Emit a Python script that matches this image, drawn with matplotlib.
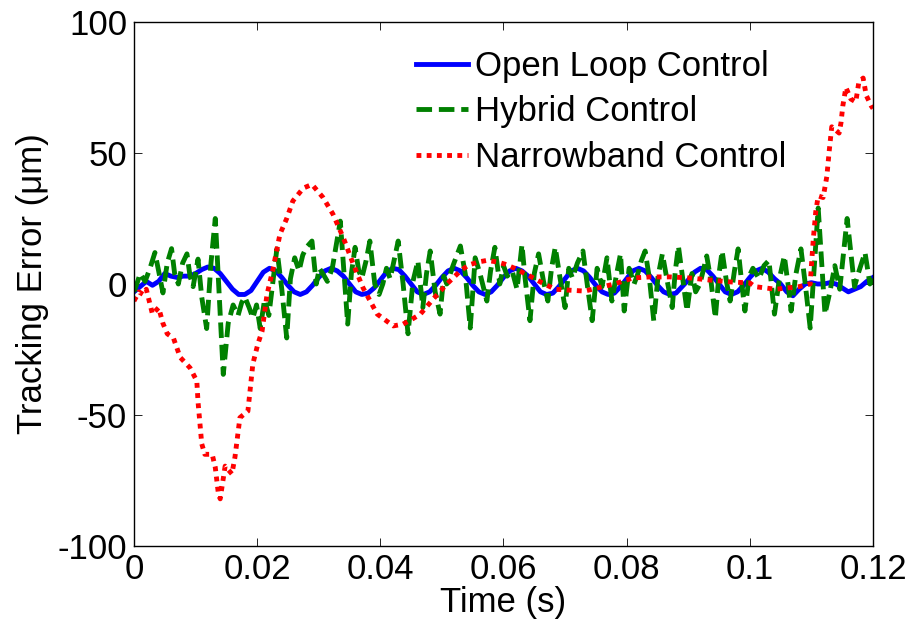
import numpy as np
import matplotlib
matplotlib.use("Agg")
import matplotlib.pyplot as plt

# === Data (time in s, error in um) ===
open_t = np.arange(121) * 0.001
open_err = [-3, -1, 1, -0.5, 1, 4, 3, 2.5, 3, 3,
            4, 5.5, 6.5, 6, 4, 1, -2, -4, -4, -2.5,
            1, 4.5, 6, 5, 2.5, -0.5, -3, -4, -3, -0.5,
            2.5, 5, 6, 5, 3, 0, -3, -4, -3.5, -1.5,
            1.5, 4.5, 6, 5.5, 3, 0, -3, -4, -3, -0.5,
            2.5, 5, 6, 5, 2.5, -0.5, -3, -4, -3, -0.5,
            2.5, 5, 6, 5, 3, 0, -3, -4, -3.5, -1,
            2, 5, 6, 5, 2.5, -0.5, -3, -4, -3.5, -1,
            2, 5, 6, 5, 2.5, -0.5, -3, -4, -3.5, -1,
            1.5, 4.5, 6, 5.5, 3, 0, -3, -4, -3, -0.5,
            2.5, 5, 6, 4.5, 2, 0, -3, -4.5, -2, 0,
            0.5, 0, 0, 0.5, 0, -1.5, -3, -2, -1, 1,
            2.5]

hybrid_t = [0.0, 0.0006, 0.0010, 0.0018, 0.0026, 0.0034, 0.0040, 0.0047, 0.0054, 0.0061,
            0.0066, 0.0072, 0.0079, 0.0086, 0.0091, 0.0096, 0.0104, 0.0110, 0.0118, 0.0125,
            0.0132, 0.0145, 0.0153, 0.0161, 0.0169, 0.0175, 0.0180, 0.0187, 0.0193, 0.0199,
            0.0205, 0.0212, 0.0219, 0.0232, 0.0240, 0.0248, 0.0254, 0.0261, 0.0268, 0.0274,
            0.0280, 0.0289, 0.0296, 0.0301, 0.0307, 0.0314, 0.0322, 0.0335, 0.0347, 0.0353,
            0.0359, 0.0365, 0.0370, 0.0377, 0.0383, 0.0391, 0.0398, 0.0404, 0.0410, 0.0416,
            0.0429, 0.0437, 0.0445, 0.0453, 0.0461, 0.0469, 0.0475, 0.0481, 0.0489, 0.0497,
            0.0503, 0.0508, 0.0518, 0.0530, 0.0538, 0.0546, 0.0554, 0.0562, 0.0573, 0.0579,
            0.0586, 0.0594, 0.0600, 0.0606, 0.0614, 0.0622, 0.0630, 0.0635, 0.0643, 0.0650,
            0.0657, 0.0665, 0.0672, 0.0678, 0.0684, 0.0692, 0.0700, 0.0706, 0.0712, 0.0720,
            0.0729, 0.0737, 0.0744, 0.0752, 0.0760, 0.0768, 0.0776, 0.0783, 0.0790, 0.0796,
            0.0804, 0.0812, 0.0818, 0.0824, 0.0830, 0.0837, 0.0844, 0.0851, 0.0858, 0.0866,
            0.0874, 0.0879, 0.0884, 0.0891, 0.0898, 0.0906, 0.0912, 0.0919, 0.0930, 0.0937,
            0.0944, 0.0950, 0.0955, 0.0962, 0.0968, 0.0975, 0.0981, 0.0987, 0.0992, 0.0999,
            0.1005, 0.1015, 0.1023, 0.1031, 0.1040, 0.1048, 0.1056, 0.1062, 0.1067, 0.1075,
            0.1083, 0.1090, 0.1098, 0.1111, 0.1122, 0.1130, 0.1138, 0.1146, 0.1158, 0.1170,
            0.1176, 0.1187, 0.1195, 0.1200]
hybrid_err = [-3, 1, 4, 1, 6, 12, 5, -3.4, 8, 13.5,
              4, 0, 8, 11.5, 3, -1, 9.5, -5, -17, 8,
              25, -34.5, -15, -8, -12, -7, -5, -9, -13, -8,
              -17, -6, -12, 13.4, -2, -20.6, 2, 10, 5, 11,
              14, 16.4, 0, 6, 3.8, 1, 6, 24, -15.3, 4,
              14, 5, 2.3, 9, 16.4, 0, -4, 0, 6, 2,
              16.4, 0, -19, 1, 8.8, -9, 4, 12.6, -3, -11.5,
              3, 0, 7, 14.5, 3.8, -16.8, 10, 3.8, -6.5, 5,
              14, 0, 7, 3, 5, -2, 15, 2.3, -14, 4,
              11.5, 1, -6.5, 6, 14, 2, -9, 6, 2.3, 8,
              12.6, -2, -14, 6, -1, 10, -6.5, 3, 11.5, -10.3,
              6, 0, 3.8, 9, 12.6, 2, -14, 3, 11.5, 1,
              -9, 5, 14.5, 2, -10.3, 4, -3, 0, 10.7, 1,
              -13, 4, 12.6, 1, -6.5, 5, 13.4, 0, -10.3, 3,
              6, 2, 7, 9, -11.5, 2, 10.7, 0, -10.3, 4,
              13.4, 0, -16.8, 29, -11.5, -3, 7, -2, 25, -1,
              4, 12, 0, 2]

narrow_t = [0.0, 0.0008, 0.0015, 0.0020, 0.0030, 0.0040, 0.0047, 0.0054, 0.0064, 0.0075,
            0.0091, 0.0102, 0.0104, 0.0107, 0.0110, 0.0115, 0.0127, 0.0132, 0.0137, 0.0140,
            0.0148, 0.0159, 0.0164, 0.0172, 0.0185, 0.0193, 0.0201, 0.0208, 0.0216, 0.0226,
            0.0237, 0.0248, 0.0258, 0.0275, 0.0289, 0.0307, 0.0323, 0.0340, 0.0356, 0.0372,
            0.0395, 0.0421, 0.0437, 0.0451, 0.0465, 0.0486, 0.0508, 0.0530, 0.0543, 0.0559,
            0.0573, 0.0590, 0.0602, 0.0618, 0.0643, 0.0663, 0.0684, 0.0703, 0.0732, 0.0753,
            0.0780, 0.0810, 0.0838, 0.0870, 0.0903, 0.0935, 0.0968, 0.1000, 0.1008, 0.1042,
            0.1080, 0.1098, 0.1100, 0.1103, 0.1107, 0.1111, 0.1119, 0.1125, 0.1129, 0.1133,
            0.1145, 0.1148, 0.1151, 0.1156, 0.1164, 0.1172, 0.1177, 0.1184, 0.1189, 0.1197,
            0.1200]
narrow_err = [-6.5, -3, -4, -2, -11.5, -9, -15, -19, -20.6, -28,
              -32, -37, -45, -53, -61, -65, -65, -70, -80, -82,
              -69.5, -72.5, -66, -51, -48.5, -30.5, -23, -18, -4, 6,
              19, 25, 31.7, 36.6, 38, 33, 26.7, 17.6, 7.6, -1.5,
              -11.5, -16, -15.3, -13.5, -11.5, -5.7, 0, 5, 7.2, 8.4,
              9, 8.4, 7.6, 6, 3, 0.4, -2, -2.3, -2.7, -1.5,
              0, 2.3, 2.7, 2.7, 2.3, 1.5, 0.8, 0.4, -1, -2,
              -1, 0, 7, 17, 27.5, 33.6, 33, 41, 51, 60,
              57.6, 61.5, 68, 75, 70.6, 69.5, 77, 78.6, 72, 68,
              67]

labels = ["Open Loop Control", "Hybrid Control", "Narrowband Control"]
x_ticks = [0, 0.02, 0.04, 0.06, 0.08, 0.1, 0.12]
x_ticklabels = ["0", "0.02", "0.04", "0.06", "0.08", "0.1", "0.12"]
y_ticks = [-100, -50, 0, 50, 100]
y_ticklabels = ["-100", "-50", "0", "50", "100"]

# === Style ===
plt.rcParams["font.family"] = ["Liberation Sans", "DejaVu Sans"]
fs = 25
lw = 3.5

fig = plt.figure(figsize=(9.09, 6.19), dpi=100)
ax = fig.add_axes([0.1474, 0.1179, 0.8130, 0.8466])

ax.plot(open_t, open_err, color=(0, 0, 1), linewidth=lw, label=labels[0])
ax.plot(hybrid_t, hybrid_err, color=(0, 0.5, 0), linewidth=lw,
        dashes=(3.2, 1.4), label=labels[1])
ax.plot(narrow_t, narrow_err, color=(1, 0, 0), linewidth=lw,
        dashes=(1.0, 1.1), label=labels[2])

ax.set_xlim(0, 0.12)
ax.set_ylim(-100, 100)
ax.set_xticks(x_ticks)
ax.set_xticklabels(x_ticklabels)
ax.set_yticks(y_ticks)
ax.set_yticklabels(y_ticklabels)
ax.tick_params(direction="in", length=6, width=0.6, top=True, right=True,
               labelsize=fs, pad=5)
for s in ax.spines.values():
    s.set_linewidth(1.0)

ax.set_xlabel("Time (s)", fontsize=fs, labelpad=0)
ax.set_ylabel("Tracking Error (\u03bcm)", fontsize=fs, labelpad=6)

ax.legend(loc="upper left", bbox_to_anchor=(0.382, 0.947), frameon=False,
          fontsize=fs, handlelength=1.5, handletextpad=0.2,
          labelspacing=0.36, borderaxespad=0, borderpad=0)

fig.savefig("out.png", dpi=100)
